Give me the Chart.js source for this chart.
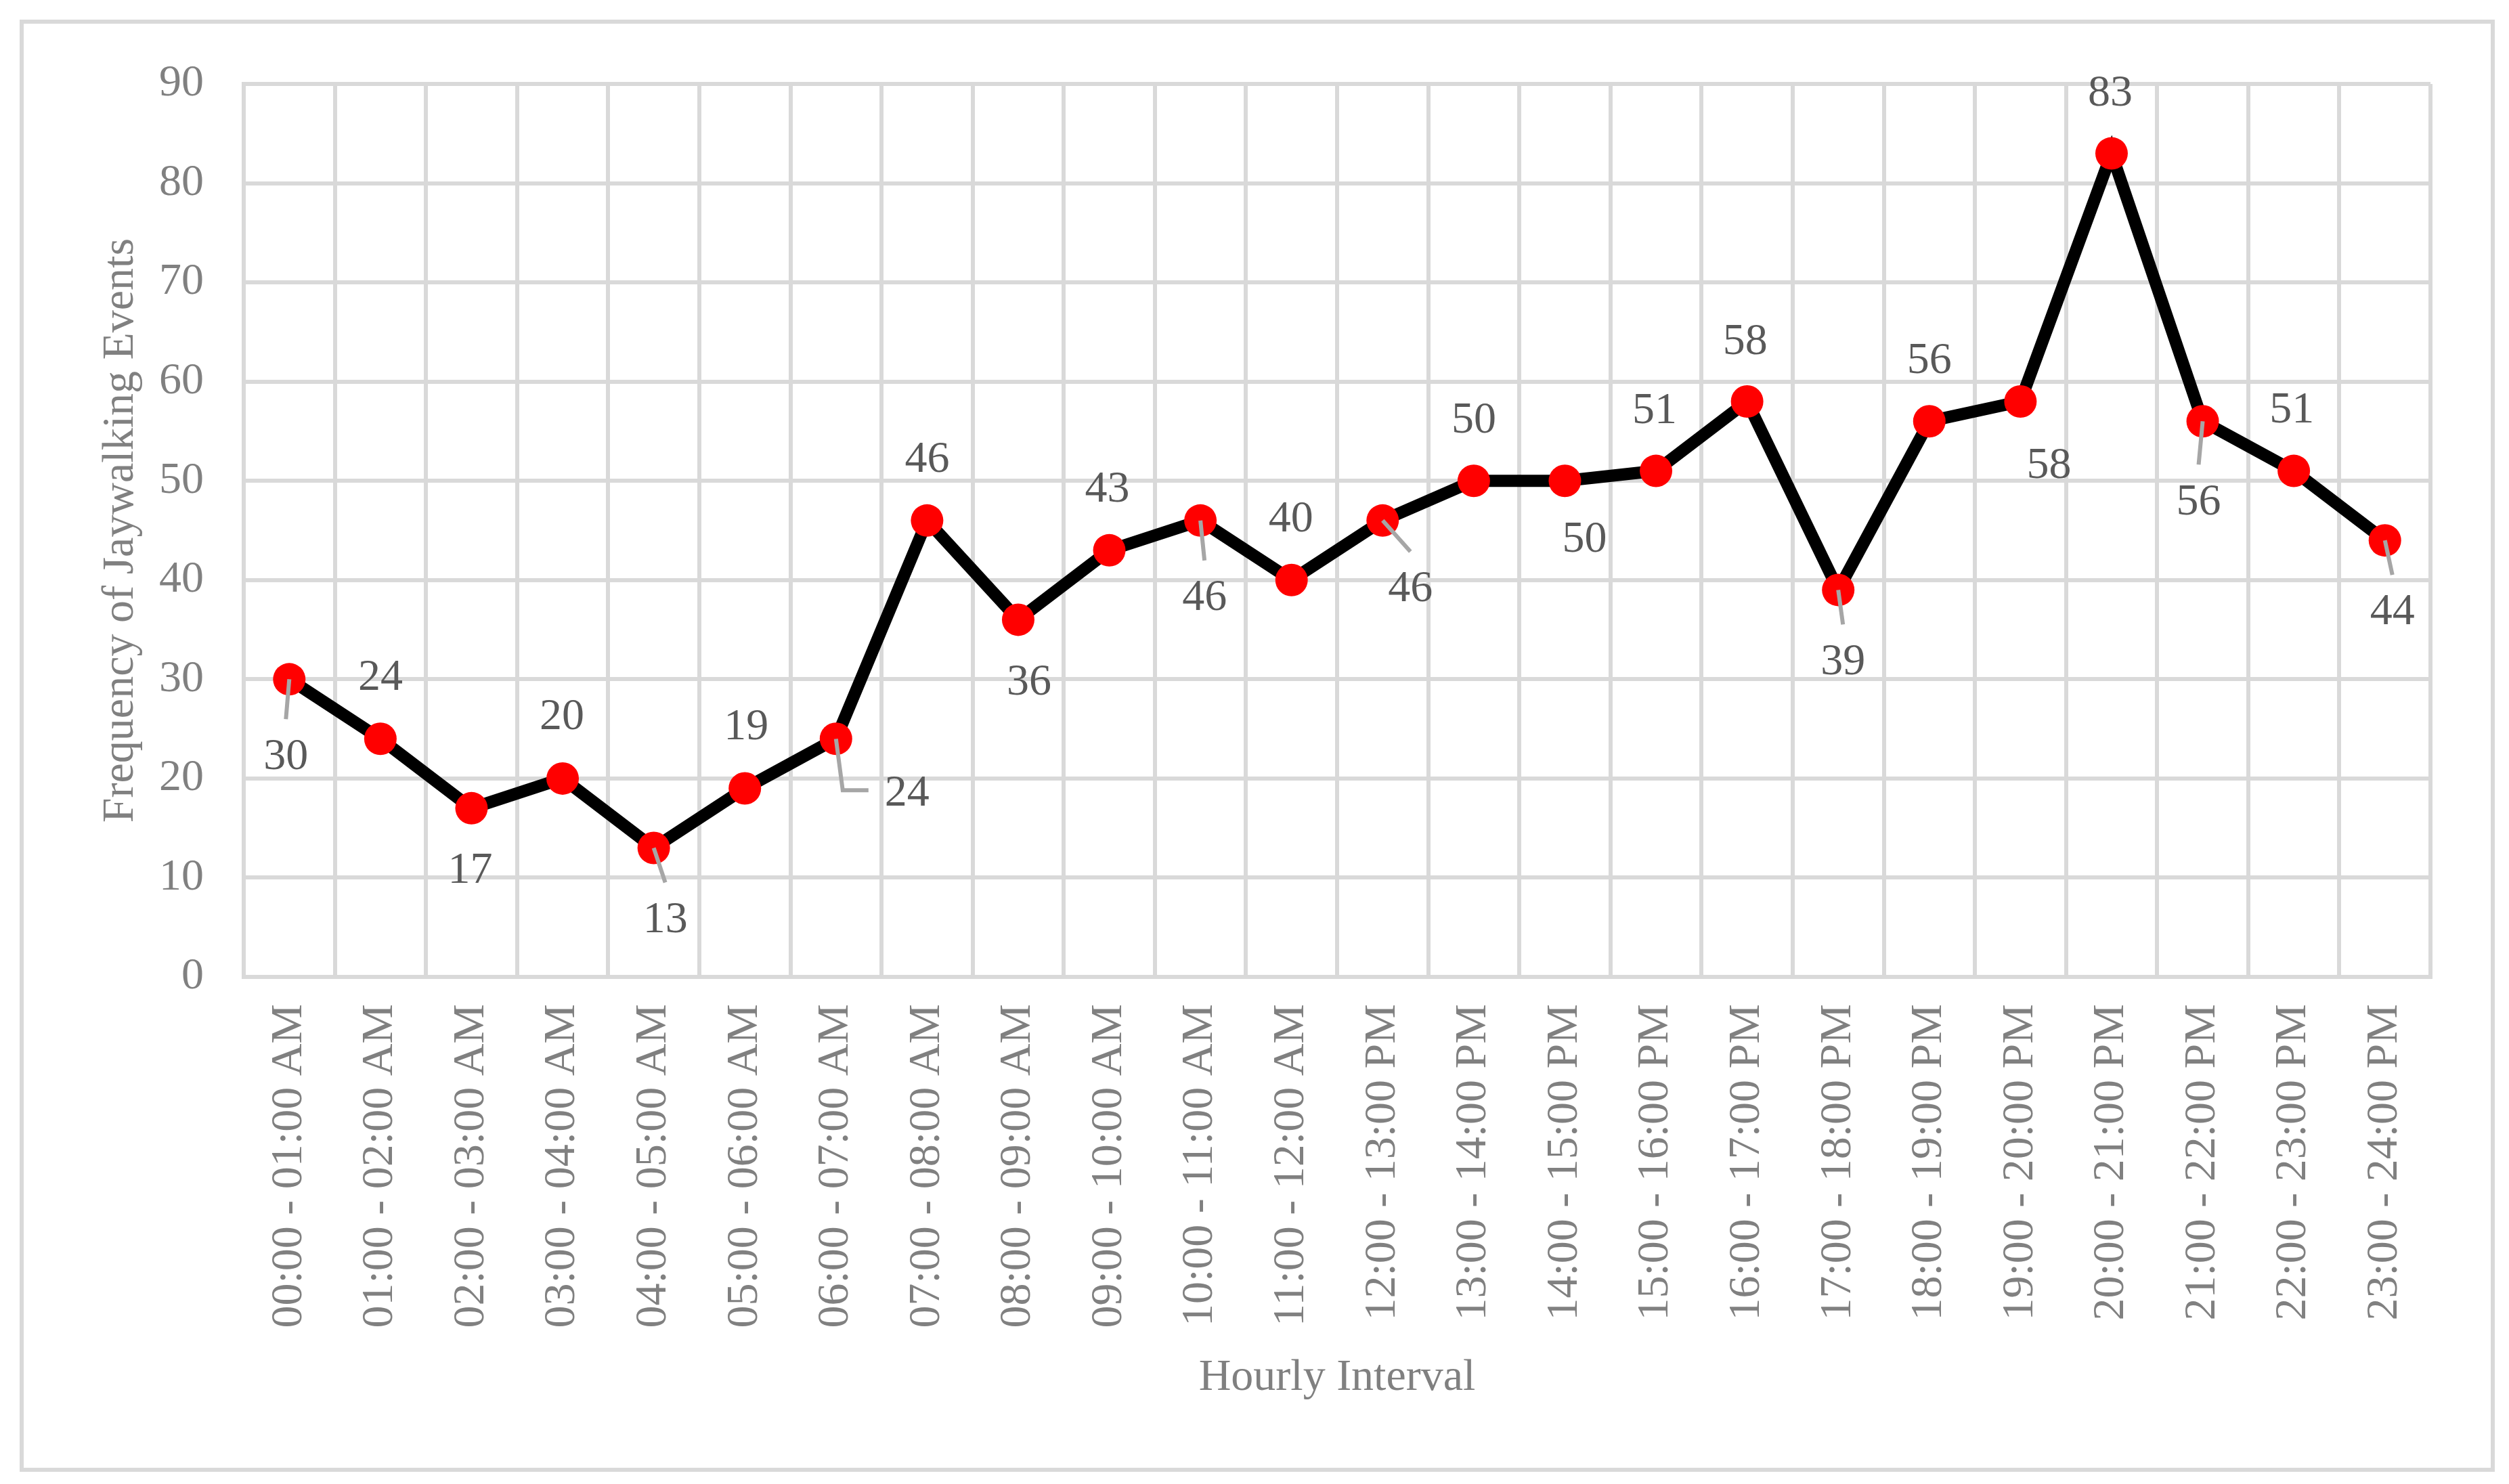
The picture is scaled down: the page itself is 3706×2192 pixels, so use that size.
<!DOCTYPE html>
<html>
<head>
<meta charset="utf-8">
<title>Frequency of Jaywalking Events by Hourly Interval</title>
<script src="https://cdn.jsdelivr.net/npm/chart.js@4.4.1/dist/chart.umd.min.js"></script>
<style>
  html, body { margin: 0; padding: 0; background: #ffffff; }
  #wrap { width: 3706px; height: 2192px; }
</style>
</head>
<body>
<div id="wrap"><canvas id="jaywalkChart" width="3706" height="2192"></canvas></div>
<script>
// hourly intervals (x axis)
var hourlyIntervals = [
    "00:00 - 01:00 AM", "01:00 - 02:00 AM", "02:00 - 03:00 AM", "03:00 - 04:00 AM",
    "04:00 - 05:00 AM", "05:00 - 06:00 AM", "06:00 - 07:00 AM", "07:00 - 08:00 AM",
    "08:00 - 09:00 AM", "09:00 - 10:00 AM", "10:00 - 11:00 AM", "11:00 - 12:00 AM",
    "12:00 - 13:00 PM", "13:00 - 14:00 PM", "14:00 - 15:00 PM", "15:00 - 16:00 PM",
    "16:00 - 17:00 PM", "17:00 - 18:00 PM", "18:00 - 19:00 PM", "19:00 - 20:00 PM",
    "20:00 - 21:00 PM", "21:00 - 22:00 PM", "22:00 - 23:00 PM", "23:00 - 24:00 PM"
];

// jaywalking events per interval
var jaywalkingCounts = [30, 24, 17, 20, 13, 19, 24, 46, 36, 43, 46, 40,
                        46, 50, 50, 51, 58, 39, 56, 58, 83, 56, 51, 44];

// y axis ticks
var yMin = 0;
var yMax = 90;
var yStep = 10;

var xTitle = "Hourly Interval";
var yTitle = "Frequency of Jaywalking Events";

// where each data label sits relative to its point (px), and its leader line
// leader: 0 = none, 1 = straight line to label top, 2 = elbow to label left
var labelOffsets = [
    [-5, 110, 1], [0, -95, 0], [-2, 88, 0], [-1, -95, 0], [17, 102, 1], [2, -95, 0],
    [105, 76, 2], [0, -94, 0], [16, 88, 0], [-3, -94, 0], [6, 110, 1], [-1, -94, 0],
    [41, 97, 1], [0, -94, 0], [29, 82, 0], [-2, -93, 0], [-3, -92, 0], [7, 102, 1],
    [0, -94, 0], [42, 91, 0], [-2, -93, 0], [-6, 115, 1], [-3, -94, 0], [11, 102, 1]
];

var FONT = "'Liberation Serif', 'Times New Roman', serif";
var GRID = "#d9d9d9";

Chart.defaults.font.family = FONT;
Chart.defaults.font.size = 66;

// outer frame of the chart
var frameBox = {
    id: 'frameBox',
    beforeDraw: function(chart) {
        var ctx = chart.ctx;
        ctx.save();
        ctx.fillStyle = "#ffffff";
        ctx.fillRect(0, 0, chart.width, chart.height);
        ctx.strokeStyle = GRID;
        ctx.lineWidth = 6;
        ctx.strokeRect(32, 32, chart.width - 56, chart.height - 53);
        ctx.restore();
    }
};

// value labels with leader lines, like the Excel ones
var valueLabels = {
    id: 'valueLabels',
    afterDatasetsDraw: function(chart) {
        var ctx = chart.ctx;
        var meta = chart.getDatasetMeta(0);
        ctx.save();
        ctx.font = "66px " + FONT;
        ctx.textAlign = "center";
        ctx.textBaseline = "middle";
        meta.data.forEach(function(pt, i) {
            var off = labelOffsets[i];
            var lx = pt.x + off[0];
            var ly = pt.y + off[1];
            if (off[2]) {
                ctx.strokeStyle = "#a6a6a6";
                ctx.lineWidth = 6;
                ctx.beginPath();
                ctx.moveTo(pt.x, pt.y);
                if (off[2] == 1) {
                    ctx.lineTo(lx, ly - 51);
                } else {
                    ctx.lineTo(pt.x + 10, ly);
                    ctx.lineTo(lx - 57, ly);
                }
                ctx.stroke();
            }
            ctx.fillStyle = "#595959";
            // canvas "middle" sits a little above the digit centre
            ctx.fillText(String(jaywalkingCounts[i]), lx, ly + 5);
        });
        ctx.restore();
    }
};

var ctx = document.getElementById('jaywalkChart').getContext('2d');
var chart = new Chart(ctx, {
    type: 'line',
    data: {
        labels: hourlyIntervals,
        datasets: [{
            label: yTitle,
            data: jaywalkingCounts,
            borderColor: '#000000',
            borderWidth: 18,
            tension: 0,
            pointRadius: 24,
            pointBorderWidth: 0,
            pointBackgroundColor: '#ff0000',
            pointBorderColor: '#ff0000',
            fill: false
        }]
    },
    options: {
        responsive: false,
        animation: false,
        devicePixelRatio: 1,
        layout: {
            padding: { left: 0, top: 124, right: 116, bottom: 0 }
        },
        plugins: {
            legend: { display: false },
            tooltip: { enabled: false }
        },
        scales: {
            x: {
                type: 'category',
                offset: true,
                grid: { offset: true, color: GRID, lineWidth: 6, drawTicks: false },
                border: { color: GRID, width: 6 },
                ticks: {
                    autoSkip: false,
                    maxRotation: 90,
                    minRotation: 90,
                    padding: 40,
                    color: '#808080',
                    font: { size: 66 }
                },
                title: {
                    display: true,
                    text: xTitle,
                    color: '#808080',
                    font: { size: 66 },
                    padding: { top: 0, bottom: 117 }
                },
                afterFit: function(scale) { scale.height = 749; }
            },
            y: {
                min: yMin,
                max: yMax,
                grid: { color: GRID, lineWidth: 6, drawTicks: false },
                border: { color: GRID, width: 6 },
                ticks: {
                    stepSize: yStep,
                    padding: 59,
                    color: '#808080',
                    font: { size: 66 }
                },
                title: {
                    display: true,
                    text: yTitle,
                    color: '#808080',
                    font: { size: 66 },
                    padding: { top: 139, bottom: 0 }
                },
                afterFit: function(scale) { scale.width = 360; }
            }
        }
    },
    plugins: [frameBox, valueLabels]
});
</script>
</body>
</html>
